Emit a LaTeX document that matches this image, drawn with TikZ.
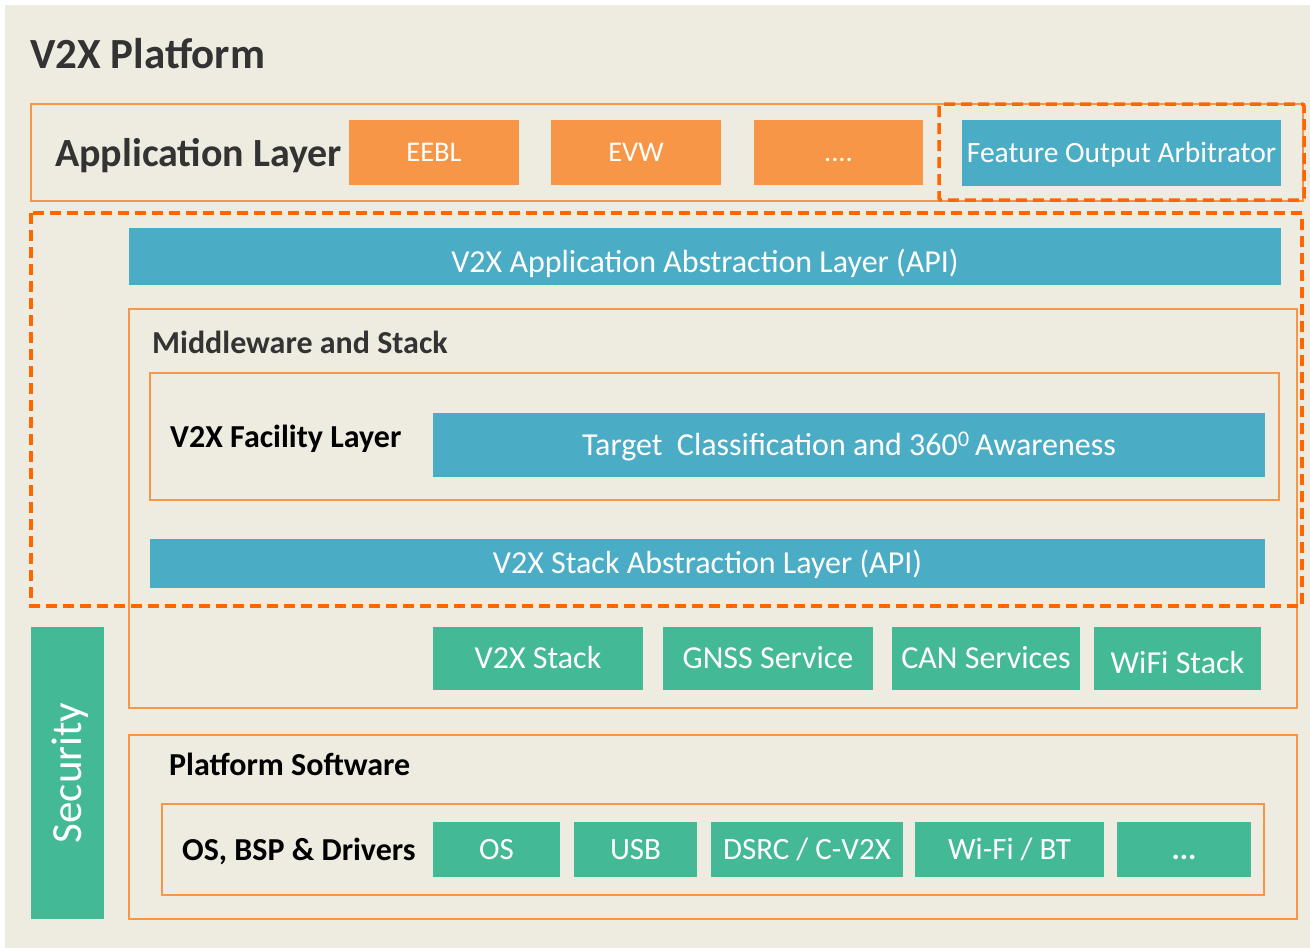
\documentclass[tikz,border=0pt]{standalone}
\usepackage{fontspec}
\setmainfont{Carlito}
\usepackage{tikz}

\definecolor{bgbeige}{HTML}{EEEBE0}
\definecolor{layerorange}{HTML}{F79646}
\definecolor{dashorange}{HTML}{FF6600}
\definecolor{apiblue}{HTML}{4BACC6}
\definecolor{svcgreen}{HTML}{43B996}
\definecolor{labelgray}{HTML}{333333}

\begin{document}
\begin{tikzpicture}[x=1pt,y=-1pt,
	frame/.style={draw=layerorange,line width=2pt},
	dashframe/.style={draw=dashorange,line width=3.5pt,dash pattern=on 11pt off 6pt},
	appbox/.style={fill=layerorange,text=white,inner sep=0pt,minimum height=65pt,text height=18pt,text depth=0pt,font=\fontsize{28.5}{33}\selectfont},
	bluebox/.style={fill=apiblue,text=white,inner sep=0pt,text height=20.5pt,text depth=0pt,font=\fontsize{32}{38}\selectfont},
	greenbox/.style={fill=svcgreen,text=white,inner sep=0pt,text height=20.5pt,text depth=0pt,font=\fontsize{32}{38}\selectfont},
	osbox/.style={greenbox,minimum height=55pt,text height=20pt,font=\fontsize{31}{36}\selectfont},
	layertitle/.style={anchor=base west,inner sep=0pt,font=\bfseries\fontsize{32}{38}\selectfont}]
	\useasboundingbox (0,0) rectangle (1310,948);
	\fill[bgbeige] (5,5) rectangle (1310,948);
	%
	\draw[frame] (31,104) rectangle (1303,201);
	\draw[frame] (129,309) rectangle (1297,708);
	\draw[frame] (150,373) rectangle (1279,500);
	\draw[frame] (129,735) rectangle (1297,919);
	\draw[frame] (162,804) rectangle (1264,895);
	%
	\node[layertitle,text=labelgray,font=\bfseries\fontsize{43}{50}\selectfont] (platform) at (30,68) {V2X Platform};
	\node[layertitle,text=labelgray,font=\bfseries\fontsize{40}{47}\selectfont] (applayer) at (55,166) {Application Layer};
	\node[layertitle,text=labelgray] (middleware) at (152,353) {Middleware and Stack};
	\node[layertitle] (facility) at (170,447) {V2X Facility Layer};
	\node[layertitle] (platsw) at (169,775) {Platform Software};
	\node[layertitle] (drivers) at (182,860) {OS, BSP \& Drivers};
	%
	\node[appbox,minimum width=170pt] (eebl) at (434,152.5) {EEBL};
	\node[appbox,minimum width=170pt] (evw) at (636,152.5) {EVW};
	\node[appbox,minimum width=169pt] (appmore) at (838.5,152.5) {....};
	\node[bluebox,minimum width=319pt,minimum height=66pt,text height=18.5pt,font=\fontsize{29.5}{34}\selectfont] (arbiter) at (1121.5,153) {Feature Output Arbitrator};
	%
	\node[bluebox,minimum width=1152pt,minimum height=57pt,text height=31.5pt] (appapi) at (705,256.5) {V2X Application Abstraction Layer (API)};
	\node[bluebox,minimum width=832pt,minimum height=64pt] (target) at (849,445) {Target\ \ Classification and 360\textsuperscript{0}\,Awareness};
	\node[bluebox,minimum width=1115pt,minimum height=49pt] (stackapi) at (707.5,563.5) {V2X Stack Abstraction Layer (API)};
	%
	\node[greenbox,minimum width=210pt,minimum height=63pt] (v2xstack) at (538,658.5) {V2X Stack};
	\node[greenbox,minimum width=210pt,minimum height=63pt] (gnss) at (768,658.5) {GNSS Service};
	\node[greenbox,minimum width=188pt,minimum height=63pt] (can) at (986,658.5) {CAN Services};
	\node[greenbox,minimum width=167pt,minimum height=63pt,text height=30pt] (wifistack) at (1177.5,658.5) {WiFi Stack};
	%
	\node[greenbox,rotate=90,minimum width=292pt,minimum height=73pt,text height=27pt,font=\fontsize{43}{50}\selectfont] (security) at (67.5,773) {Security};
	%
	\node[osbox,minimum width=127pt] (os) at (496.5,849.5) {OS};
	\node[osbox,minimum width=123pt] (usb) at (635.5,849.5) {USB};
	\node[osbox,minimum width=192pt] (dsrc) at (807,849.5) {DSRC / C-V2X};
	\node[osbox,minimum width=189pt] (wifibt) at (1009.5,849.5) {Wi-Fi / BT};
	\node[osbox,minimum width=134pt,font=\bfseries\fontsize{31}{36}\selectfont] (osmore) at (1184,849.5) {...};
	%
	\draw[dashframe,rounded corners=2pt] (939,104) rectangle (1304,200);
	\draw[dashframe] (31,213) rectangle (1302,606);
\end{tikzpicture}
\end{document}
